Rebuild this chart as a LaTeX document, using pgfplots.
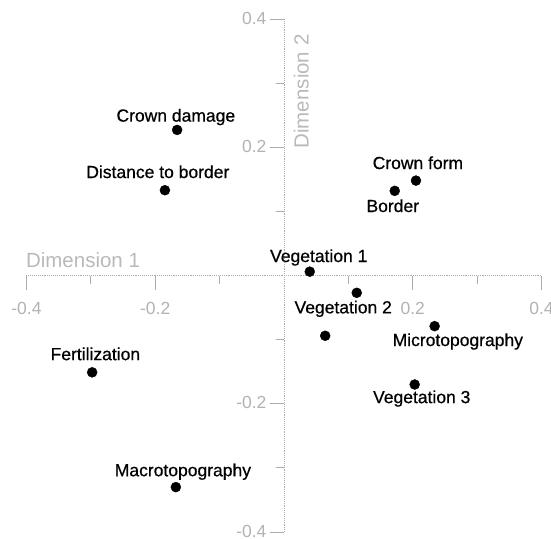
\documentclass[border=0pt]{standalone}
\usepackage{pgfplots}
\pgfplotsset{compat=1.18}
\usepackage{fontspec}
\setmainfont{Liberation Sans}
\newfontfamily\heavy[FakeBold=0.6]{Liberation Sans}
\newcommand{\lbl}{\heavy\fontsize{17.5bp}{20bp}\selectfont}
\newcommand{\tkl}{\fontsize{17.5bp}{20bp}\selectfont}
\newcommand{\dimfont}{\fontsize{20.5bp}{22bp}\selectfont}
\begin{document}
\begin{tikzpicture}
\useasboundingbox (-284bp,-263.5bp) rectangle (267bp,275.5bp);
\begin{axis}[
  at={(0,0)}, anchor=origin,
  scale only axis, width=515bp, height=513bp,
  xmin=-0.4, xmax=0.4, ymin=-0.4, ymax=0.4,
  axis lines=middle,
  axis line style={-, gray!65, line width=0.9bp, densely dotted},
  clip=false,
  xtick={-0.4,-0.2,0.2,0.4},
  ytick={-0.4,-0.2,0.2,0.4},
  xticklabels={-0.4,-0.2,0.2,0.4},
  yticklabels={-0.4,-0.2,0.2,0.4},
  minor xtick={-0.3,-0.1,0.1,0.3},
  minor ytick={-0.3,-0.1,0.1,0.3},
  tick align=outside,
  major tick length=14bp, minor tick length=8bp,
  tick style={gray!65, line width=0.8bp},
  ticklabel style={font=\tkl, text=gray!60},
  xticklabel style={yshift=-9bp},
  yticklabel style={yshift=1bp},
]
\addplot[only marks, mark=*, mark size=5bp, black] coordinates {
  (-0.166, 0.227) (-0.185, 0.133) (0.205, 0.148) (0.172, 0.132)
  (0.040, 0.006) (0.113, -0.027) (0.064, -0.094) (0.234, -0.079)
  (0.203, -0.170) (-0.298, -0.151) (-0.168, -0.330)
};
\node[anchor=base, font=\lbl] at (axis cs:-0.168,0.240) {Crown damage};
\node[anchor=base, font=\lbl] at (axis cs:-0.196,0.152) {Distance to border};
\node[anchor=base, font=\lbl] at (axis cs:0.208,0.166) {Crown form};
\node[anchor=base, font=\lbl] at (axis cs:0.169,0.099) {Border};
\node[anchor=base, font=\lbl] at (axis cs:0.054,0.021) {Vegetation 1};
\node[anchor=base, font=\lbl] at (axis cs:0.092,-0.059) {Vegetation 2};
\node[anchor=base, font=\lbl] at (axis cs:0.270,-0.110) {Microtopography};
\node[anchor=base, font=\lbl] at (axis cs:0.214,-0.199) {Vegetation 3};
\node[anchor=base, font=\lbl] at (axis cs:-0.293,-0.132) {Fertilization};
\node[anchor=base, font=\lbl] at (axis cs:-0.157,-0.313) {Macrotopography};
\node[anchor=base west, font=\dimfont, text=gray!55, inner sep=0pt] at (axis cs:-0.401,0.012) {Dimension 1};
\node[rotate=90, font=\dimfont, text=gray!55, inner sep=0pt] at (axis cs:0.027,0.287) {Dimension 2};
\end{axis}
\end{tikzpicture}
\end{document}
